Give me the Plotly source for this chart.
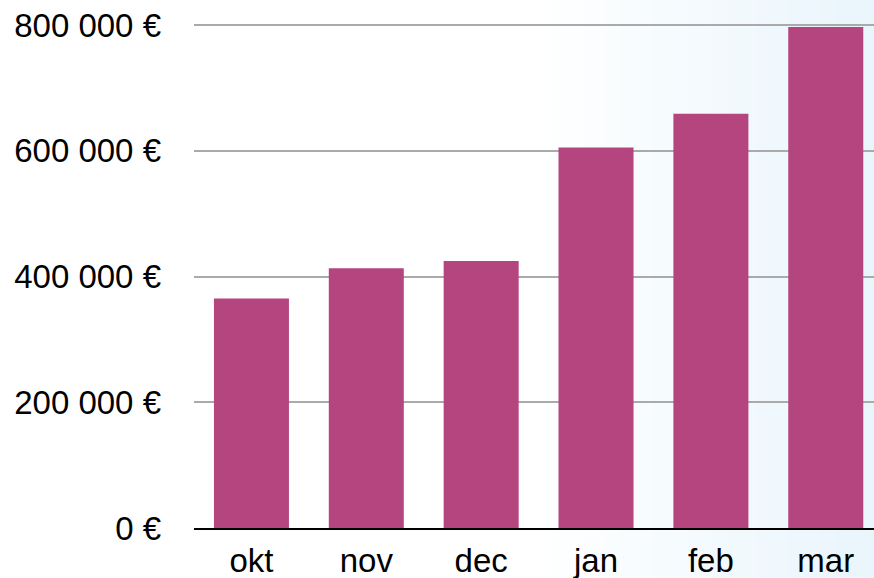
import plotly.graph_objects as go

months = ["okt", "nov", "dec", "jan", "feb", "mar"]
revenue = [365000, 413000, 424500, 605000, 659000, 797000]
y_ticks = [0, 200000, 400000, 600000, 800000]
y_tick_labels = ["0 €", "200 000 €", "400 000 €", "600 000 €", "800 000 €"]

BAR = "#B4457F"
W, H = 874, 578
L, R, T, B = 194, 0, 24, 50

fig = go.Figure()
fig.add_trace(go.Bar(x=months, y=revenue, marker=dict(color=BAR, line=dict(width=0)),
                     hoverinfo="skip"))

# background gradient (white -> light blue) as thin paper strips
pw = W - L - R
ph = H - T - B
x0c, x1c = 535, W
n = 115
shapes = []
c0 = (255, 255, 255)
c1 = (233, 245, 252)
for i in range(n):
    a = x0c + (x1c - x0c) * i / n
    b = x0c + (x1c - x0c) * (i + 1) / n + 0.6
    t = (i + 0.5) / n
    col = tuple(round(c0[k] + (c1[k] - c0[k]) * t) for k in range(3))
    shapes.append(dict(type="rect", xref="paper", yref="paper", layer="below",
                       x0=(a - L) / pw, x1=(b - L) / pw,
                       y0=-B / ph - 0.05, y1=1 + T / ph + 0.05,
                       line=dict(width=0), fillcolor="rgb(%d,%d,%d)" % col))

fig.update_layout(
    width=W, height=H,
    margin=dict(l=L, r=R, t=T, b=B, pad=0),
    paper_bgcolor="white",
    plot_bgcolor="rgba(0,0,0,0)",
    bargap=0.347,
    showlegend=False,
    shapes=shapes,
    font=dict(family="Liberation Sans, Arial, Helvetica, sans-serif", size=33, color="black"),
    xaxis=dict(range=[-0.5, 5.42], showgrid=False, showline=True, linecolor="black",
               linewidth=2, ticks="", ticklabelstandoff=2, fixedrange=True),
    yaxis=dict(range=[0, 801600], tickvals=y_ticks, ticktext=y_tick_labels,
               showgrid=True, gridcolor="#AAAAAA", gridwidth=2, zeroline=False,
               showline=False, ticks="", ticklabelstandoff=32, fixedrange=True),
)

fig.write_html("out.html", config={"displayModeBar": False},
               post_script="document.body.style.margin='0';document.body.style.overflow='hidden';")
